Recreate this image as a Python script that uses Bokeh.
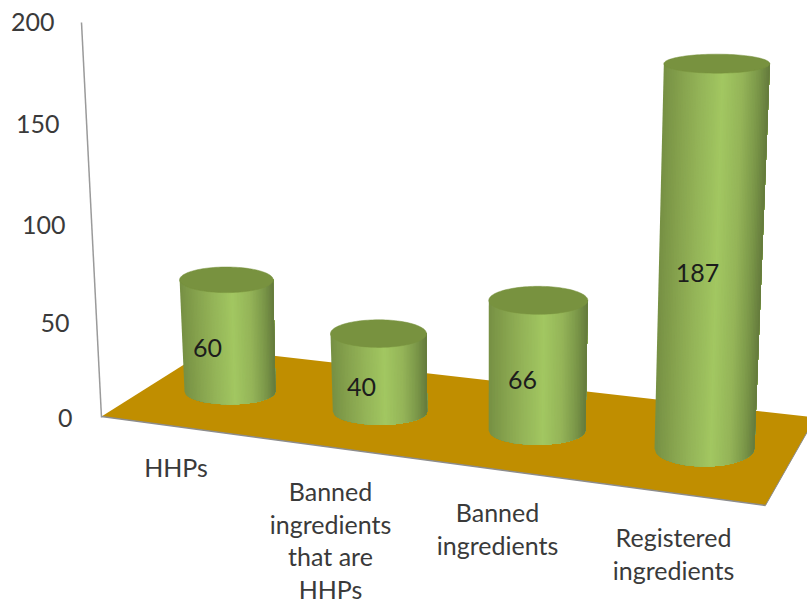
import numpy as np
from bokeh.embed import file_html
from bokeh.models import ColumnDataSource, Range1d
from bokeh.plotting import figure
from bokeh.resources import INLINE
from bokeh.core.properties import value

# Chart data
categories = [["HHPs"],
              ["Banned", "ingredients", "that are", "HHPs"],
              ["Banned", "ingredients"],
              ["Registered", "ingredients"]]
counts = [60, 40, 66, 187]
ticks = [0, 50, 100, 150, 200]

# Vertical pixel scale of the value axis
PX_PER_UNIT = 1.975
ZERO_PX = 417.0
WIDTH, HEIGHT = 807, 605

# Perspective layout of each cylinder on the floor (screen units, y in value units)
base_x = [229.5, 379.5, 536.6, 704.0]
base_y = [13.2, 3.0, -6.6, -15.7]
base_half_w = [45.5, 47.2, 48.4, 50.0]
top_half_w = [46.8, 48.0, 49.5, 53.0]
base_half_h = [13.0, 13.3, 14.3, 18.0]
top_half_h = [12.8, 13.8, 14.0, 9.5]
lean = [-0.06, -0.0375, 0.018, 0.066]      # horizontal shift per value unit
depth_scale = [0.942, 0.987, 0.999, 1.042]  # shortening of height with depth

# Floor outline in (screen x, value) coordinates
floor_x = [101, 209, 815, 765]
floor_y = [0.5, 35.0, 0.0, -44.5]

# Side shading of a cylinder, from left edge to right edge
shade_pos = [0.0, 0.15, 0.35, 0.56, 0.75, 0.90, 1.0]
shade_rgb = [(118, 144, 68), (132, 160, 76), (148, 180, 88), (162, 199, 97),
             (148, 180, 88), (122, 150, 72), (100, 122, 60)]
TOP_COLOR = "#78923f"
FLOOR_COLOR = "#c08e00"
EDGE_COLOR = "#8c8c8c"
AXIS_COLOR = "#9a9a9a"
TEXT_COLOR = "#3a3a3a"
LABEL_COLOR = "#1c1c1c"
FONT = value("Lato")
FONT_SIZE = "25px"


def shade(t):
    r = [np.interp(t, shade_pos, [c[k] for c in shade_rgb]) for k in range(3)]
    return "#%02x%02x%02x" % tuple(int(round(v)) for v in r)


def axis_x(v):
    return 101 - 0.1 * v


p = figure(width=WIDTH, height=HEIGHT, output_backend="svg", toolbar_location=None,
           x_range=Range1d(0, WIDTH),
           y_range=Range1d((ZERO_PX - HEIGHT) / PX_PER_UNIT, ZERO_PX / PX_PER_UNIT),
           min_border=0, outline_line_color=None, background_fill_color="white")
p.axis.visible = False
p.grid.visible = False

# Floor and its front edges
p.patch(floor_x, floor_y, fill_color=FLOOR_COLOR, line_color=None)
p.line(floor_x[:1] + floor_x[3:], floor_y[:1] + floor_y[3:], line_color=EDGE_COLOR, line_width=1.5)
p.line(floor_x[2:], floor_y[2:], line_color=EDGE_COLOR, line_width=1.0)

# Slanted value axis
p.line([axis_x(ticks[0]), axis_x(ticks[-1])], [ticks[0], ticks[-1]],
       line_color=AXIS_COLOR, line_width=1.5)

# Cylinders: overlapping shaded strips, each running to the right edge, capped by an ellipse
N = 64
for i, v in enumerate(counts):
    top_y = base_y[i] + v * depth_scale[i]
    top_x = base_x[i] + lean[i] * v
    bh = base_half_h[i] / PX_PER_UNIT
    th = top_half_h[i] / PX_PER_UNIT
    edges = np.linspace(-1, 1, N + 1)
    xs, ys, colors = [], [], []
    for k in range(N):
        arc = edges[k:]
        xs.append(list(base_x[i] + arc * base_half_w[i])
                  + [top_x + top_half_w[i], top_x + edges[k] * top_half_w[i]])
        ys.append(list(base_y[i] - bh * np.sqrt(1 - arc * arc)) + [top_y, top_y])
        colors.append(shade((edges[k] + edges[k + 1] + 2) / 4))
    p.patches(xs, ys, fill_color=colors, line_color=None)

    angle = np.linspace(0, 2 * np.pi, 120)
    p.patch(top_x + top_half_w[i] * np.cos(angle), top_y + th * np.sin(angle),
            fill_color=TOP_COLOR, line_color=TOP_COLOR, line_width=0.5)

# Value labels on the cylinders
label_x = [207, 361, 522, 697]
label_y = [base_y[i] + counts[i] * depth_scale[i] * f for i, f in enumerate([0.385, 0.32, 0.385, 0.455])]
p.text(label_x, label_y, text=[str(c) for c in counts], text_font=FONT, text_font_size=FONT_SIZE,
       text_color=LABEL_COLOR, text_align="center", text_baseline="middle")

# Value-axis labels following the slanted axis
tick_dx = [-2, 0, 1, 0, 0]
tick_dy = [0, -4, -5, -3, 1]
p.text([axis_x(t) - 27 + dx for t, dx in zip(ticks, tick_dx)],
       [t + dy / PX_PER_UNIT for t, dy in zip(ticks, tick_dy)],
       text=[str(t) for t in ticks], text_font=FONT, text_font_size=FONT_SIZE,
       text_color=TEXT_COLOR, text_align="right", text_baseline="middle")

# Category labels, one text per line
cat_x = [175.5, 330, 497, 673]
cat_top = [-25.0, -37.3, -48.0, -60.5]
LINE_STEP = 32.6 / PX_PER_UNIT
src = ColumnDataSource(dict(
    x=[cat_x[i] for i, lines in enumerate(categories) for _ in lines],
    y=[cat_top[i] - k * LINE_STEP for i, lines in enumerate(categories) for k in range(len(lines))],
    t=[s for lines in categories for s in lines]))
p.text("x", "y", text="t", source=src, text_font=FONT, text_font_size=FONT_SIZE,
       text_color=TEXT_COLOR, text_align="center", text_baseline="middle")

open("out.html", "w").write(file_html(p, INLINE))
